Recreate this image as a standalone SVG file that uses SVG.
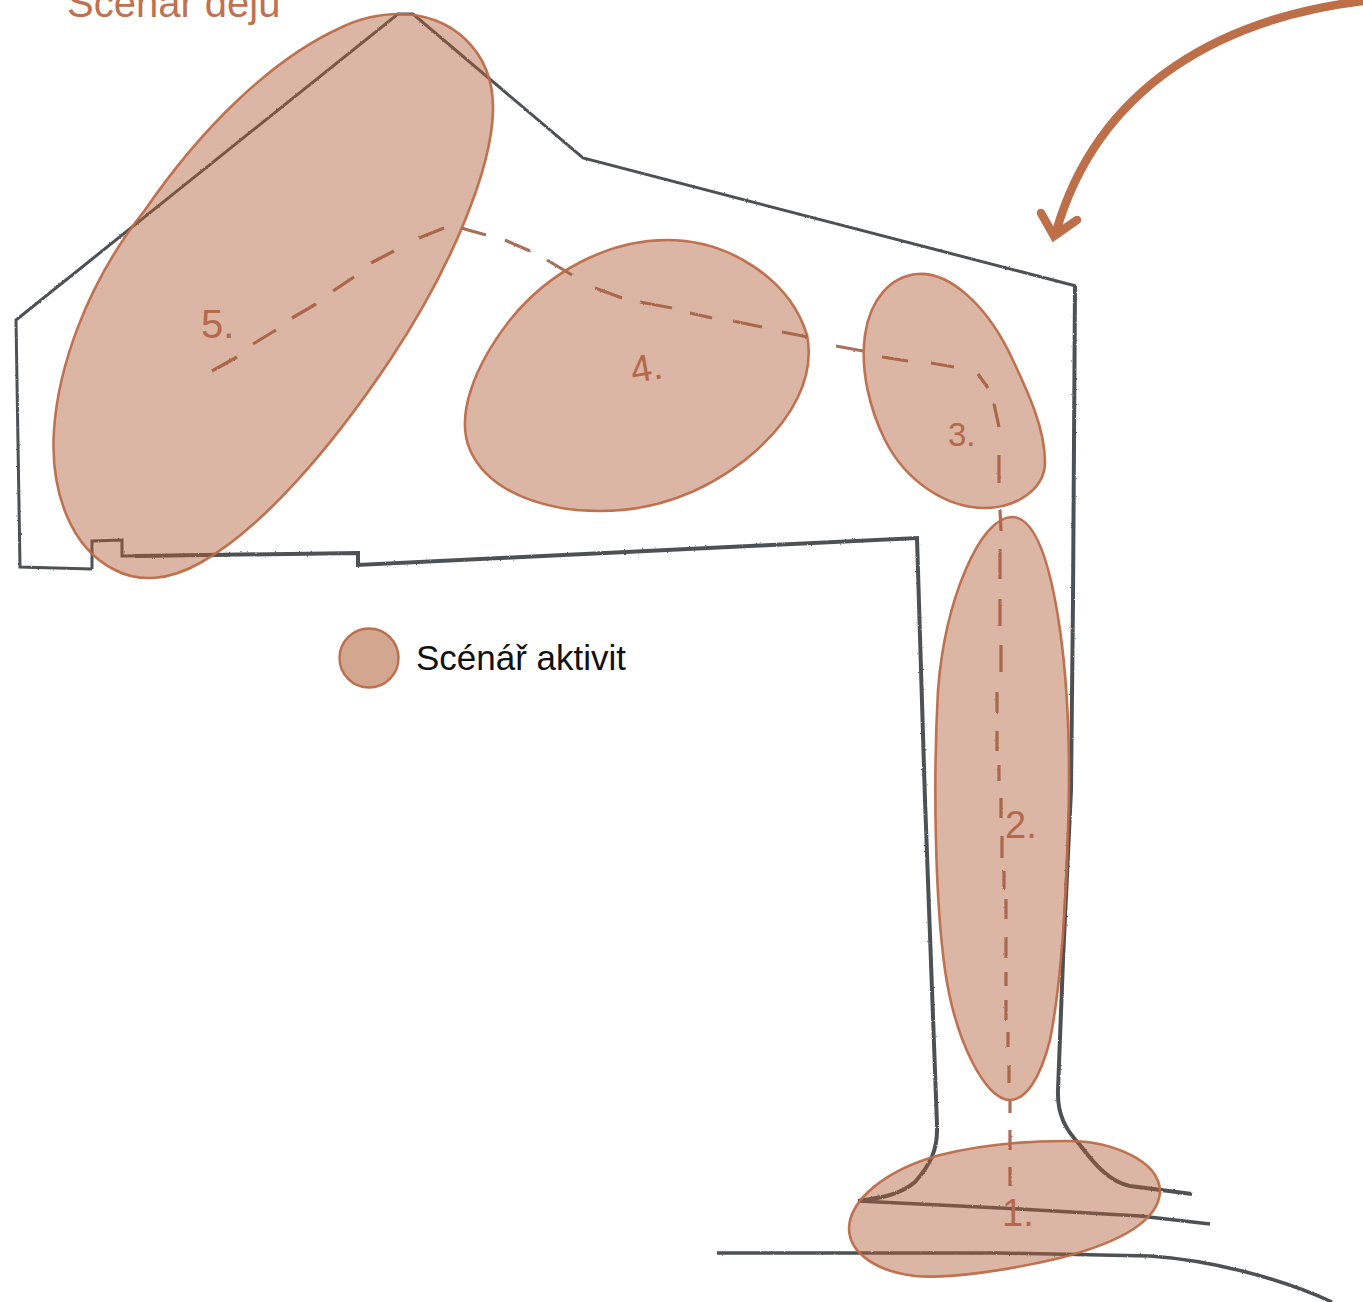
<svg xmlns="http://www.w3.org/2000/svg" width="1363" height="1302" viewBox="0 0 1363 1302">
<style>
.pencil{fill:none;stroke:#4d5153;stroke-linejoin:miter;stroke-linecap:butt}
.blob{fill:#af5d37;fill-opacity:.45;stroke:#bd6c49;stroke-width:2.6;stroke-opacity:.95}
.dash{fill:none;stroke:#a8705a;stroke-width:3.2;stroke-linecap:butt}
.num{font-family:"Liberation Sans",Arial,sans-serif;fill:#b5694a}
.title{font-family:"Liberation Sans",Arial,sans-serif;font-size:40px;fill:#bf7150}
.legend{font-family:"Liberation Sans",Arial,sans-serif;font-size:35px;fill:#111}
.arrow{fill:none;stroke:#bd6f4a;stroke-width:8.5}
</style>
<defs>
<filter id="rough" x="-5%" y="-5%" width="110%" height="110%">
<feTurbulence type="fractalNoise" baseFrequency="0.45" numOctaves="2" seed="4"/>
<feDisplacementMap in="SourceGraphic" scale="2" xChannelSelector="R" yChannelSelector="G"/>
</filter>
</defs>
<rect width="1363" height="1302" fill="#fff"/>

<g id="outline" filter="url(#rough)">
<path class="pencil" stroke-width="3" d="M92 569 L20 567 L16 320 L398 14 L413 14 L583 158 L1076 286"/>
<path class="pencil" stroke-width="4" d="M1075 286 L1073 600 L1071 790 L1063 960 L1058 1090 C1057 1115 1066 1130 1080 1145 C1095 1165 1110 1182 1130 1186 L1192 1194"/>
<path class="pencil" stroke-width="3" d="M92 569 L92 541 L122 540 L122 556 L230 555"/>
<path class="pencil" stroke-width="4" d="M135 556 L358 553 L358 565 L917 538 L925 800 L937 1125 C938 1150 930 1165 915 1182 C900 1195 880 1198 858 1201"/>
<path class="pencil" stroke-width="3.5" d="M858 1201 L1000 1208 L1140 1216 L1210 1224"/>
<path class="pencil" stroke-width="3.5" d="M717 1253 L1000 1253 L1150 1256 C1210 1260 1280 1278 1332 1302"/>
</g>

<g id="connectors">
<path class="dash" filter="url(#rough)" d="M212 371L237 357M253 344L276 330M292 318L316 304M333 291L354 277M371 263L394 251M419 238L444 228M461 228L486 235M505 240L530 251M547 260L572 275M595 288L622 298M640 302L672 308M690 313L712 318M733 321L762 327M782 332L808 337M836 346L863 351M882 357L908 361M931 363L954 367M978 374L988 388M994 404L999 427M999 455L999 483M1000 510L1001 531M1000 549L1000 579M1000 599L1000 626M1001 645L1001 672M997 692L997 713M997 731L997 751M999 765L999 781M1001 798L1001 818M1002 836L1002 858M1004 871L1004 889M1006 899L1006 919M1006 937L1006 958M1006 972L1006 986M1006 1000L1006 1020M1008 1032L1008 1047M1009 1065L1009 1083M1010 1101L1010 1113M1010 1130L1010 1150M1010 1167L1010 1186"/>
<path id="arrow" class="arrow" d="M1372 0 C1222 16 1098 86 1056 232"/>
<path class="arrow" stroke-linecap="round" d="M1041 213 L1054 236 L1077 220"/>
</g>

<g id="node-5">
<path class="blob" d="M400 14 C450 14 494 50 493 110 C492 170 450 270 390 360 C330 450 260 530 200 563 C170 580 140 583 115 570 C70 548 50 490 54 430 C58 370 85 285 145 210 C200 130 270 60 340 28 C360 18 380 14 400 14 Z"/>
<text class="num" x="201" y="338" font-size="40">5.</text>
</g>
<g id="node-4">
<path class="blob" d="M667 240 C730 240 790 280 807 335 C815 375 795 420 745 460 C700 495 650 511 600 511 C550 511 490 495 470 450 C455 415 475 365 510 320 C550 270 610 240 667 240 Z"/>
<text class="num" x="630" y="381" font-size="38" transform="rotate(-10 645 365)">4.</text>
</g>
<g id="node-3">
<path class="blob" d="M918 274 C950 272 985 305 1008 350 C1030 395 1045 430 1045 462 C1045 490 1015 508 985 508 C945 508 905 480 885 440 C870 410 860 370 865 335 C870 300 890 276 918 274 Z"/>
<text class="num" x="948" y="446" font-size="33">3.</text>
</g>
<g id="node-2">
<path class="blob" d="M1012 517 C1035 517 1050 560 1060 630 C1070 700 1070 770 1068 830 C1066 900 1062 980 1050 1040 C1040 1080 1025 1100 1010 1100 C985 1100 955 1040 945 970 C935 900 933 780 938 690 C945 600 980 517 1012 517 Z"/>
<text class="num" x="1005" y="838" font-size="38">2.</text>
</g>
<g id="node-1">
<path class="blob" d="M1064 1141 C1110 1140 1160 1160 1160 1192 C1158 1225 1110 1245 1060 1258 C1010 1270 950 1279 915 1276 C880 1272 849 1255 849 1228 C850 1200 885 1170 940 1155 C980 1145 1025 1141 1064 1141 Z"/>
<text class="num" x="1002" y="1226" font-size="38">1.</text>
</g>

<g id="title"><text class="title" x="67" y="17">Scénář dějů</text></g>
<g id="legend">
<circle cx="369" cy="658" r="29.5" fill="#d3a68f" stroke="#bd6f4c" stroke-width="2.4"/>
<text class="legend" x="416" y="670">Scénář aktivit</text>
</g>
</svg>
